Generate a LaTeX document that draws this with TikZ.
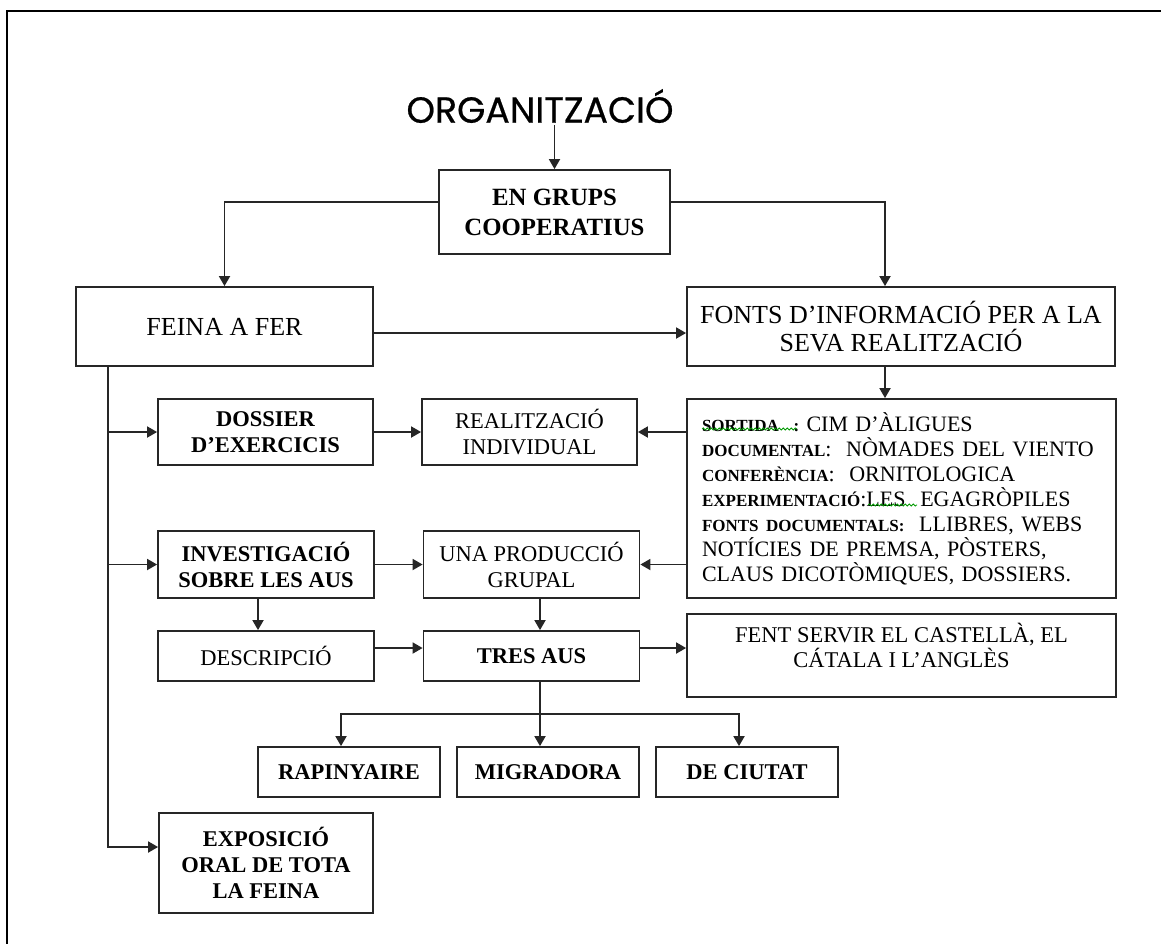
\documentclass[tikz,border=0pt]{standalone}
\usepackage{graphicx}
\usepackage{fontspec}
\setmainfont{Liberation Serif}
\newfontfamily\titlefont[FakeBold=0.6]{Poppins}
\newcommand\lblfont{\fontsize{8.5}{10}\selectfont\bfseries}
\usetikzlibrary{arrows.meta,calc,decorations.pathmorphing}
\begin{document}
\begin{tikzpicture}[x=0.5pt,y=-0.5pt,
  box/.style={draw=black!85, line width=0.9pt, inner sep=0pt, align=center},
  arr/.style={draw=black!85, line width=0.9pt, -{Triangle[length=5pt,width=5.5pt]}},
  txt/.style={font=\fontsize{11.25}{13}\selectfont},
  btxt/.style={font=\fontsize{11.25}{13}\selectfont\bfseries},
  big/.style={font=\fontsize{13}{14}\selectfont},
  squig/.style={draw=green!60!black, line width=0.4pt, decorate, decoration={snake, amplitude=0.5pt, segment length=2pt}},
]
\useasboundingbox (0,0) rectangle (1161,944);
\draw[line width=1.4pt] (1161,11) -- (7,11) -- (7,944);

% title
\node[inner sep=1pt] (org) at (540,106) {\resizebox{133.5pt}{!}{\titlefont ORGANITZACIÓ}};

% boxes
\node[box, font=\fontsize{12.4}{15}\selectfont\bfseries, minimum width=115.5pt, minimum height=42pt] (grups) at (554.5,212) {EN GRUPS\\COOPERATIUS};
\node[box, big, minimum width=148.5pt, minimum height=39.5pt] (feina) at (224.5,326.5) {FEINA A FER};
\node[box, big, minimum width=214pt, minimum height=39.5pt] (fonts) at (901,326.5) {FONTS D’INFORMACIÓ PER A LA\\SEVA REALITZACIÓ};
\node[box, btxt, minimum width=107.5pt, minimum height=33pt] (dossier) at (265.5,432) {DOSSIER\\D’EXERCICIS};
\node[box, txt, minimum width=107.5pt, minimum height=33pt] (realitz) at (529.5,432) {REALITZACIÓ\\INDIVIDUAL};
\node[box, font=\fontsize{11}{12.5}\selectfont, align=left, text width=199.5pt, minimum width=214.5pt, minimum height=99.5pt] (sortida) at (901.5,498.5) {%
{\lblfont SORTIDA\ \ :} CIM D’ÀLIGUES\\
{\lblfont DOCUMENTAL}:\ \ NÒMADES DEL VIENTO\\
{\lblfont CONFERÈNCIA}:\ \ ORNITOLOGICA\\
{\lblfont EXPERIMENTACIÓ}:LES\ \ EGAGRÒPILES\\
{\lblfont FONTS DOCUMENTALS:}\ \ LLIBRES, WEBS\\
NOTÍCIES DE PREMSA, PÒSTERS,\\
CLAUS DICOTÒMIQUES, DOSSIERS.};
\node[box, btxt, minimum width=108pt, minimum height=33.5pt] (invest) at (266,564.5) {INVESTIGACIÓ\\SOBRE LES AUS};
\node[box, txt, minimum width=108pt, minimum height=33.5pt] (una) at (531.5,564.5) {UNA PRODUCCIÓ\\GRUPAL};
\node[box, txt, minimum width=108pt, minimum height=25pt] (desc) at (266,656) {DESCRIPCIÓ};
\node[box, btxt, minimum width=108pt, minimum height=25pt] (tres) at (531.5,656) {TRES AUS};
\node[box, minimum width=214.5pt, minimum height=41.5pt] (fent) at (901.5,655.5) {};
\node[align=center, anchor=north, inner sep=0pt, font=\fontsize{11.25}{12.5}\selectfont] (fenttxt) at (901.5,623) {FENT SERVIR EL CASTELLÀ, EL\\CÁTALA I L’ANGLÈS};
\node[box, btxt, minimum width=91pt, minimum height=25pt] (rapin) at (349,772) {RAPINYAIRE};
\node[box, btxt, minimum width=91pt, minimum height=25pt] (migra) at (548,772) {MIGRADORA};
\node[box, btxt, minimum width=91pt, minimum height=25pt] (ciutat) at (747,772) {DE CIUTAT};
\node[box, btxt, minimum width=107pt, minimum height=50pt] (expo) at (266,863) {EXPOSICIÓ\\ORAL DE TOTA\\LA FEINA};

% spell-check squiggles
\draw[squig] (702,429) -- (797,429);
\draw[squig] (868,505) -- (917,505);

% connectors
\draw[arr] (org.south -| grups.north) -- (grups.north);
\coordinate (gl) at ($(grups.west)+(0,-10)$);
\coordinate (gr) at ($(grups.east)+(0,-10)$);
\coordinate (fontsin) at ($(fonts.north)+(-16,0)$);
\draw[arr] (gl) -| (feina.north);
\draw[arr] (gr) -| (fontsin);
\coordinate (fe) at ($(feina.east)+(0,6.5)$);
\draw[arr] (fe) -- (fe -| fonts.west);
\coordinate (fo) at ($(fonts.south)+(-16,0)$);
\draw[arr] (fo) -- (fo |- sortida.north);
\coordinate (trunk) at ($(feina.south west)+(33,0)$);
\coordinate (expoin) at ($(expo.west)+(0,-16)$);
\draw[arr] (trunk) |- (expoin);
\draw[arr] (trunk |- dossier.west) -- (dossier.west);
\draw[arr] (trunk |- invest.west) -- (invest.west);
\draw[arr] (dossier.east) -- (realitz.west);
\draw[arr] (realitz.east -| sortida.west) -- (realitz.east);
\draw[arr] (invest.east) -- (una.west);
\draw[arr] (una.east -| sortida.west) -- (una.east);
\coordinate (is) at ($(invest.south)+(-8,0)$);
\draw[arr] (is) -- (is |- desc.north);
\coordinate (us) at ($(una.south)+(8.5,0)$);
\draw[arr] (us) -- (us |- tres.north);
\coordinate (de) at ($(desc.east)+(0,-8)$);
\draw[arr] (de) -- (de -| tres.west);
\coordinate (te) at ($(tres.east)+(0,-8)$);
\draw[arr] (te) -- (te -| fent.west);
\coordinate (ts) at ($(tres.south)+(8.5,0)$);
\draw[arr] (ts) -- (ts |- migra.north);
\coordinate (br) at ($(ts)!0.5!(ts |- migra.north)$);
\draw[arr] (br) -| ($(rapin.north)+(-8,0)$);
\draw[arr] (br) -| ($(ciutat.north)+(-8,0)$);
\end{tikzpicture}
\end{document}
